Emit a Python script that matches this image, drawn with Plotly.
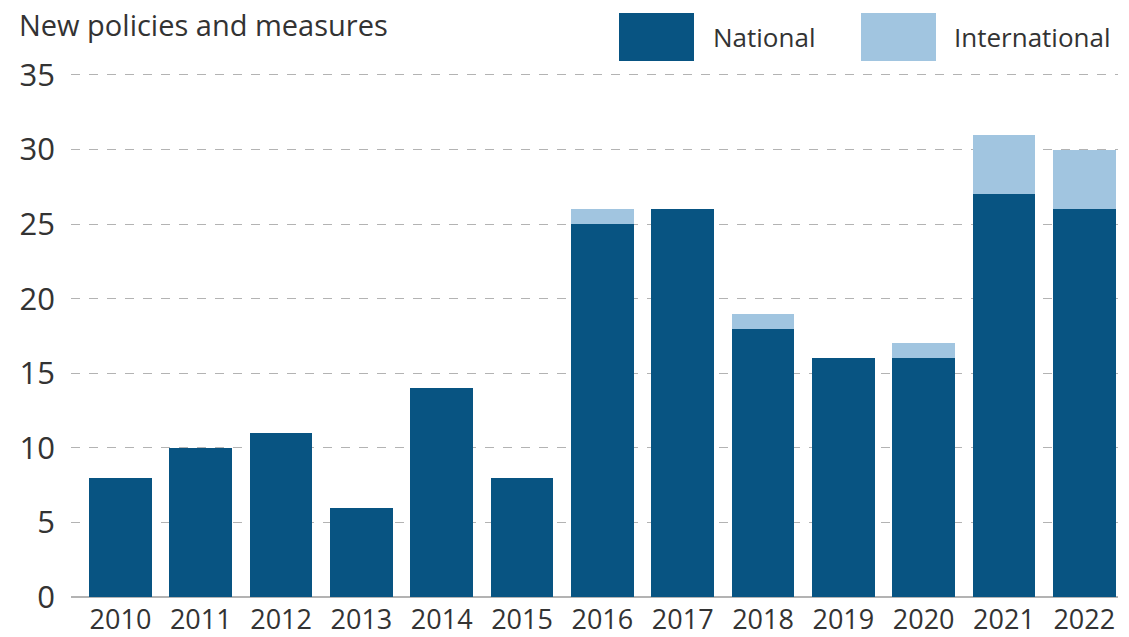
import plotly.graph_objects as go

years = ["2010", "2011", "2012", "2013", "2014", "2015", "2016",
         "2017", "2018", "2019", "2020", "2021", "2022"]
national = [8, 10, 11, 6, 14, 8, 25, 26, 18, 16, 16, 27, 26]
international = [0, 0, 0, 0, 0, 0, 1, 0, 1, 0, 1, 4, 4]
y_ticks = [0, 5, 10, 15, 20, 25, 30, 35]

C_NAT = "#085482"
C_INT = "#a1c5e0"
TXT = "#333333"
FONT = "Open Sans"

fig = go.Figure()
fig.add_bar(x=years, y=national, name="National", marker=dict(color=C_NAT, line=dict(width=0)))
fig.add_bar(x=years, y=international, name="International", marker=dict(color=C_INT, line=dict(width=0)))

fig.update_layout(
    width=1129, height=637,
    margin=dict(l=71, r=11, t=72, b=40),
    barmode="stack",
    bargap=0.22,
    showlegend=False,
    plot_bgcolor="white",
    paper_bgcolor="white",
    font=dict(family=FONT, color=TXT, size=26),
)
fig.update_xaxes(
    type="category",
    range=[-0.616, 12.42],
    showgrid=False,
    ticks="",
    tickfont=dict(size=27, color=TXT),
    showline=False,
    automargin=False,
    ticklabelstandoff=4,
)
fig.update_yaxes(
    range=[0, 35.2],
    tickvals=y_ticks,
    showgrid=True,
    gridcolor="#b3b3b3",
    griddash="dash",
    gridwidth=1,
    zeroline=True,
    zerolinecolor="#b3b3b3",
    zerolinewidth=1.5,
    ticks="",
    ticklabelstandoff=15,
    tickfont=dict(size=31, color=TXT),
    automargin=False,
)

def px_x(px):
    return (px - 71) / 1047

def px_y(py):
    return (597 - py) / 525

# title
fig.add_annotation(text="New policies and measures", xref="paper", yref="paper",
                   x=px_x(17), y=px_y(24), xanchor="left", yanchor="middle",
                   showarrow=False, font=dict(size=29, color=TXT))

# legend drawn as shapes + text
for x0, x1, col, label, tx in [(619, 694, C_NAT, "National", 711),
                                (861, 936, C_INT, "International", 952)]:
    fig.add_shape(type="rect", xref="paper", yref="paper",
                  x0=px_x(x0), x1=px_x(x1), y0=px_y(61), y1=px_y(13),
                  fillcolor=col, line=dict(width=0), layer="above")
    fig.add_annotation(text=label, xref="paper", yref="paper",
                       x=px_x(tx), y=px_y(37), xanchor="left", yanchor="middle",
                       showarrow=False, font=dict(size=26, color=TXT))

fig.write_html("out.html")
